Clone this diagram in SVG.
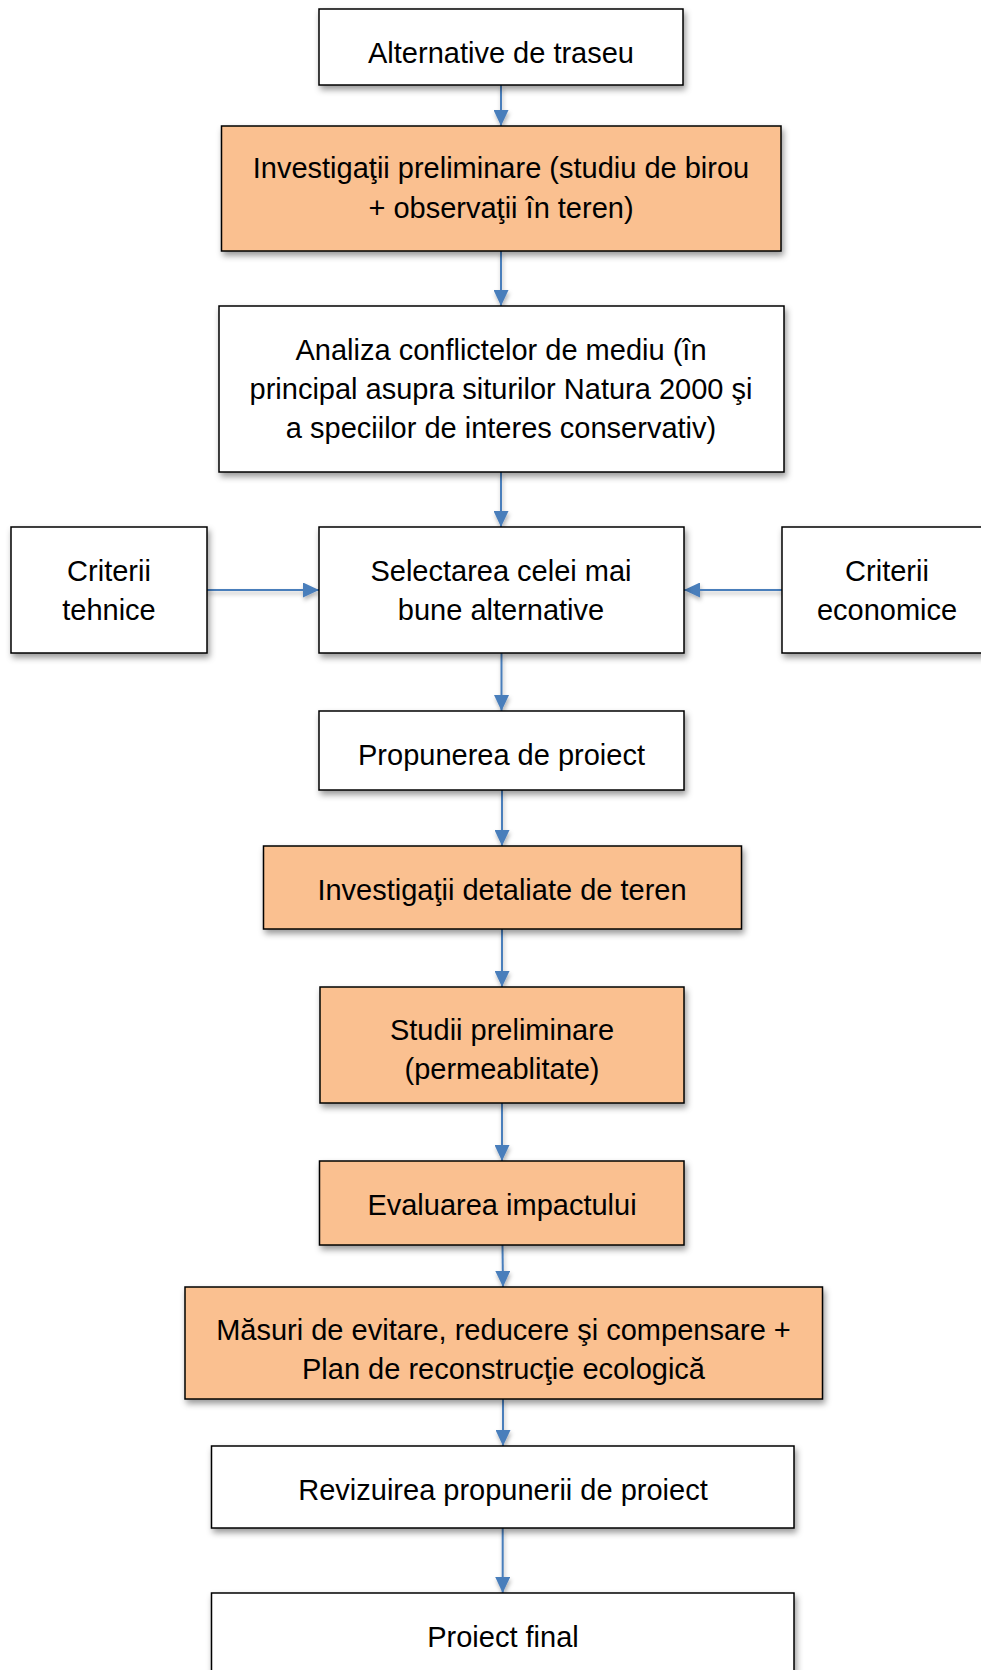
<svg xmlns="http://www.w3.org/2000/svg" width="981" height="1670" viewBox="0 0 981 1670">
<style>
  .box { fill: #ffffff; stroke: #000000; stroke-width: 1.5; filter: url(#shadow); }
  .orange { fill: #FAC090; }
  .lbl { font-family: "Liberation Sans", Arial, sans-serif; font-size: 29px; fill: #000000; text-anchor: middle; }
  .conn { stroke: #4A7EBB; stroke-width: 2; fill: none; marker-end: url(#arrow); }
</style>
<defs>
  <filter id="shadow" x="-10%" y="-10%" width="125%" height="135%">
    <feDropShadow dx="2" dy="4" stdDeviation="3" flood-color="#000000" flood-opacity="0.4"/>
  </filter>
  <filter id="lshadow" filterUnits="userSpaceOnUse" x="0" y="0" width="981" height="1670">
    <feDropShadow dx="1" dy="3" stdDeviation="2" flood-color="#000000" flood-opacity="0.3"/>
  </filter>
  <marker id="arrow" viewBox="0 0 16 15" refX="16" refY="7.5" markerWidth="16" markerHeight="15" markerUnits="userSpaceOnUse" orient="auto">
    <path d="M0,0 L16,7.5 L0,15 z" fill="#4A7EBB"/>
  </marker>
</defs>
<rect width="981" height="1670" fill="#ffffff"/>

<g id="connectors" filter="url(#lshadow)">
  <line class="conn" x1="501" y1="85" x2="501" y2="126"/>
  <line class="conn" x1="501" y1="251" x2="501" y2="306"/>
  <line class="conn" x1="501" y1="472" x2="501" y2="527"/>
  <line class="conn" x1="207" y1="590" x2="319" y2="590"/>
  <line class="conn" x1="782" y1="590" x2="684" y2="590"/>
  <line class="conn" x1="501.5" y1="653" x2="501.5" y2="711"/>
  <line class="conn" x1="502" y1="790" x2="502" y2="846"/>
  <line class="conn" x1="502" y1="929" x2="502" y2="987"/>
  <line class="conn" x1="502" y1="1103" x2="502" y2="1161"/>
  <line class="conn" x1="502.5" y1="1245" x2="503" y2="1287"/>
  <line class="conn" x1="503" y1="1399" x2="503" y2="1446"/>
  <line class="conn" x1="502.7" y1="1528" x2="502.7" y2="1593"/>
</g>

<g id="n1">
  <rect class="box" x="319" y="9" width="364" height="76"/>
  <text class="lbl" x="501" y="63">Alternative de traseu</text>
</g>
<g id="n2">
  <rect class="box orange" x="221.5" y="126" width="559.5" height="125"/>
  <text class="lbl" x="501" y="178">Investigaţii preliminare (studiu de birou</text>
  <text class="lbl" x="501" y="218">+ observaţii în teren)</text>
</g>
<g id="n3">
  <rect class="box" x="219" y="306" width="565" height="166"/>
  <text class="lbl" x="501" y="360">Analiza conflictelor de mediu (în</text>
  <text class="lbl" x="501" y="399">principal asupra siturilor Natura 2000 şi</text>
  <text class="lbl" x="501" y="438">a speciilor de interes conservativ)</text>
</g>
<g id="n4">
  <rect class="box" x="11" y="527" width="196" height="126"/>
  <text class="lbl" x="109" y="581">Criterii</text>
  <text class="lbl" x="109" y="620">tehnice</text>
</g>
<g id="n5">
  <rect class="box" x="319" y="527" width="365" height="126"/>
  <text class="lbl" x="501" y="581">Selectarea celei mai</text>
  <text class="lbl" x="501" y="620">bune alternative</text>
</g>
<g id="n6">
  <rect class="box" x="782" y="527" width="210" height="126"/>
  <text class="lbl" x="887" y="581">Criterii</text>
  <text class="lbl" x="887" y="620">economice</text>
</g>
<g id="n7">
  <rect class="box" x="319" y="711" width="365" height="79"/>
  <text class="lbl" x="501.5" y="765">Propunerea de proiect</text>
</g>
<g id="n8">
  <rect class="box orange" x="263.5" y="846" width="478" height="83"/>
  <text class="lbl" x="502" y="900">Investigaţii detaliate de teren</text>
</g>
<g id="n9">
  <rect class="box orange" x="320" y="987" width="364" height="116"/>
  <text class="lbl" x="502" y="1040">Studii preliminare</text>
  <text class="lbl" x="502" y="1079">(permeablitate)</text>
</g>
<g id="n10">
  <rect class="box orange" x="319.5" y="1161" width="364.5" height="84"/>
  <text class="lbl" x="502" y="1215">Evaluarea impactului</text>
</g>
<g id="n11">
  <rect class="box orange" x="185" y="1287" width="637.5" height="112"/>
  <text class="lbl" x="503.5" y="1340">Măsuri de evitare, reducere şi compensare +</text>
  <text class="lbl" x="503.5" y="1379">Plan de reconstrucţie ecologică</text>
</g>
<g id="n12">
  <rect class="box" x="211.5" y="1446" width="582.5" height="82"/>
  <text class="lbl" x="503" y="1500">Revizuirea propunerii de proiect</text>
</g>
<g id="n13">
  <rect class="box" x="211.5" y="1593" width="582.5" height="90"/>
  <text class="lbl" x="503" y="1647">Proiect final</text>
</g>
</svg>
